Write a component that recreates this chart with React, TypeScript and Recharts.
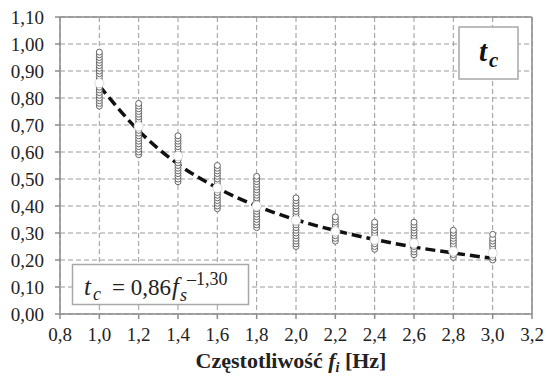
import React from "react";
import {
  ComposedChart,
  Scatter,
  Line,
  XAxis,
  YAxis,
  CartesianGrid,
  ReferenceLine,
} from "recharts";

// Frequencies (Hz) at which the measured t_c columns sit
const frequencies = [1.0, 1.2, 1.4, 1.6, 1.8, 2.0, 2.2, 2.4, 2.6, 2.8, 3.0];

// Measured t_c values per frequency (read from the dense circle columns)
const col10 = [0.77, 0.78, 0.79, 0.8, 0.81, 0.82, 0.83, 0.84, 0.85, 0.86, 0.87, 0.88, 0.89, 0.9, 0.91, 0.92, 0.93, 0.94, 0.95, 0.96, 0.97];
const col12 = [0.59, 0.6, 0.61, 0.62, 0.63, 0.64, 0.65, 0.66, 0.67, 0.68, 0.69, 0.7, 0.71, 0.72, 0.73, 0.74, 0.75, 0.76, 0.77, 0.78];
const col14 = [0.49, 0.5, 0.51, 0.52, 0.53, 0.54, 0.55, 0.56, 0.57, 0.58, 0.59, 0.6, 0.61, 0.62, 0.63, 0.64, 0.65, 0.66];
const col16 = [0.39, 0.4, 0.41, 0.42, 0.43, 0.44, 0.45, 0.46, 0.47, 0.48, 0.49, 0.5, 0.51, 0.52, 0.53, 0.54, 0.55];
const col18 = [0.32, 0.33, 0.34, 0.35, 0.36, 0.37, 0.38, 0.39, 0.4, 0.41, 0.42, 0.43, 0.44, 0.45, 0.46, 0.47, 0.48, 0.49, 0.5, 0.51];
const col20 = [0.25, 0.26, 0.27, 0.28, 0.29, 0.3, 0.31, 0.32, 0.33, 0.34, 0.35, 0.36, 0.37, 0.38, 0.39, 0.4, 0.41, 0.42, 0.43];
const col22 = [0.27, 0.28, 0.29, 0.3, 0.31, 0.32, 0.33, 0.34, 0.35, 0.36];
const col24 = [0.24, 0.25, 0.26, 0.27, 0.28, 0.29, 0.3, 0.31, 0.32, 0.33, 0.34];
const col26 = [0.22, 0.23, 0.24, 0.25, 0.26, 0.27, 0.28, 0.29, 0.3, 0.31, 0.32, 0.33, 0.34];
const col28 = [0.21, 0.22, 0.23, 0.24, 0.25, 0.26, 0.27, 0.28, 0.29, 0.3, 0.31];
const col30 = [0.2, 0.21, 0.22, 0.23, 0.24, 0.25, 0.26, 0.27, 0.28, 0.295];
const measuredColumns = [col10, col12, col14, col16, col18, col20, col22, col24, col26, col28, col30];

// Mean value at each frequency (white markers)
const meanValues = [0.855, 0.695, 0.585, 0.467, 0.4, 0.347, 0.306, 0.275, 0.262, 0.232, 0.226];

// Fitted curve t_c = 0.86 f^-1.30
const fitValues = [0.845, 0.679, 0.555, 0.467, 0.4, 0.349, 0.309, 0.276, 0.248, 0.226, 0.206];

// Axis ticks
const xTicks = [0.8, 1.0, 1.2, 1.4, 1.6, 1.8, 2.0, 2.2, 2.4, 2.6, 2.8, 3.0, 3.2];
const yTicks = [0, 0.1, 0.2, 0.3, 0.4, 0.5, 0.6, 0.7, 0.8, 0.9, 1.0, 1.1];

const measuredData = measuredColumns.flatMap((col, i) =>
  col.map((v) => ({ x: frequencies[i], y: v }))
);
const meanData = frequencies.map((f, i) => ({ x: f, y: meanValues[i] }));
const fitData = frequencies.map((f, i) => ({ x: f, y: fitValues[i] }));

const SERIF = '"Liberation Serif", "Times New Roman", serif';
const AXIS_COLOR = "#8c8c8c";
const TEXT_COLOR = "#222";

const SmallCircle = (props: any) => {
  const { cx, cy } = props;
  if (cx == null || cy == null) return null;
  return <circle cx={cx} cy={cy} r={3} fill="#fff" stroke="#555" strokeWidth={0.9} />;
};

const MeanCircle = (props: any) => {
  const { cx, cy } = props;
  if (cx == null || cy == null) return null;
  return <circle cx={cx} cy={cy} r={4.6} fill="#fff" stroke="#cfcfcf" strokeWidth={0.8} />;
};

const fmtY = (v: number) => v.toFixed(2).replace(".", ",");
const fmtX = (v: number) => v.toFixed(1).replace(".", ",");

const XTick = (props: any) => {
  const { x, y, payload } = props;
  return (
    <text x={x} y={y} dy="0.71em" textAnchor="middle" fontFamily={SERIF} fontSize={19} fill={TEXT_COLOR}>
      {fmtX(payload.value)}
    </text>
  );
};

const YTick = (props: any) => {
  const { x, y, payload } = props;
  return (
    <text x={x} y={y} dy="0.36em" textAnchor="end" fontFamily={SERIF} fontSize={19} fill={TEXT_COLOR}>
      {fmtY(payload.value)}
    </text>
  );
};

export default function App() {
  return (
    <div style={{ position: "absolute", left: 0, top: 0, width: 546, height: 376, background: "#fff" }}>
      <ComposedChart
        width={546}
        height={376}
        margin={{ top: 17, right: 14, bottom: 32, left: 0 }}
      >
        <CartesianGrid stroke="#9a9a9a" strokeDasharray="5 3" strokeWidth={1} />
        <XAxis
          type="number"
          dataKey="x"
          domain={[0.8, 3.2]}
          ticks={xTicks}
          interval={0}
          height={30}
          stroke={AXIS_COLOR}
          strokeWidth={1.5}
          tickSize={5}
          tickMargin={9}
          tick={<XTick />}
          allowDataOverflow
        />
        <YAxis
          type="number"
          dataKey="y"
          domain={[0, 1.1]}
          ticks={yTicks}
          interval={0}
          width={60}
          stroke={AXIS_COLOR}
          strokeWidth={1.5}
          tickSize={5}
          tickMargin={11}
          tick={<YTick />}
          allowDataOverflow
        />
        <ReferenceLine y={1.1} stroke={AXIS_COLOR} strokeWidth={1.5} />
        <ReferenceLine x={3.2} stroke={AXIS_COLOR} strokeWidth={1.5} />
        <Scatter data={measuredData} dataKey="y" shape={SmallCircle} isAnimationActive={false} />
        <Line
          data={fitData}
          dataKey="y"
          type="monotone"
          stroke="#111"
          strokeWidth={3.5}
          strokeDasharray="10 5"
          dot={false}
          activeDot={false}
          isAnimationActive={false}
        />
        <Scatter data={meanData} dataKey="y" shape={MeanCircle} isAnimationActive={false} />
      </ComposedChart>

      <svg
        width={546}
        height={376}
        style={{ position: "absolute", left: 0, top: 0, pointerEvents: "none" }}
        fontFamily={SERIF}
      >
        {/* Series label box */}
        <rect x={459} y={27} width={59} height={52} fill="#fff" stroke="#a8a8a8" strokeWidth={1.5} />
        <text x={479} y={61} fontSize={29} fontWeight="bold" fontStyle="italic" fill="#111">
          t
        </text>
        <text x={489} y={67} fontSize={21} fontWeight="bold" fontStyle="italic" fill="#111">
          c
        </text>

        {/* Formula box */}
        <rect x={72.5} y={264.5} width={176} height={40} fill="#fff" stroke="#a8a8a8" strokeWidth={1.5} />
        <text x={84} y={295} fontSize={25} fontStyle="italic" fill={TEXT_COLOR}>t</text>
        <text x={93} y={300} fontSize={18} fontStyle="italic" fill={TEXT_COLOR}>c</text>
        <text x={112} y={295} fontSize={23} fill={TEXT_COLOR}>= 0,86</text>
        <text x={172} y={295} fontSize={25} fontStyle="italic" fill={TEXT_COLOR}>f</text>
        <text x={180} y={301} fontSize={18} fontStyle="italic" fill={TEXT_COLOR}>s</text>
        <text x={187} y={285} fontSize={18} fill={TEXT_COLOR}>–1,30</text>

        {/* X axis title */}
        <text x={291} y={368} textAnchor="middle" fontSize={22} fontWeight="bold" fill={TEXT_COLOR}>
          Częstotliwość <tspan fontStyle="italic">f</tspan>
          <tspan fontStyle="italic" fontSize={14} dy={4}>i</tspan>
          <tspan dy={-4}> [Hz]</tspan>
        </text>
      </svg>
    </div>
  );
}
